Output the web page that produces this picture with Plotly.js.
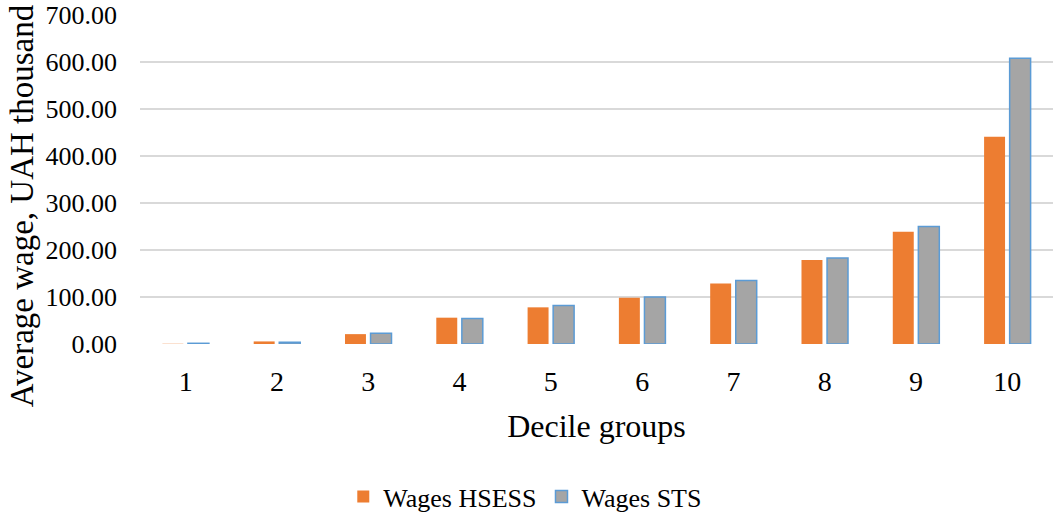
<!DOCTYPE html>
<html>
<head>
<meta charset="utf-8">
<script src="https://cdn.plot.ly/plotly-3.0.1.min.js"></script>
<style>
html,body{margin:0;padding:0;background:#fff;}
#chart{width:1056px;height:515px;}
</style>
</head>
<body>
<div id="chart"></div>
<script>
const categories = ['1','2','3','4','5','6','7','8','9','10'];
const wagesHSESS = [0.5, 5.5, 21, 56, 78, 98.5, 128.5, 178.5, 239, 441];
const wagesSTS = [1.5, 3.5, 23, 54.5, 82, 100, 135, 183, 250, 608];
const seriesNames = ['Wages HSESS', 'Wages STS'];
const yTicks = [0, 100, 200, 300, 400, 500, 600, 700];
const xTitle = 'Decile groups';
const yTitle = 'Average wage, UAH thousand';

const font = 'Liberation Serif';

const traces = [
  {
    type: 'bar', name: seriesNames[0], x: categories, y: wagesHSESS,
    marker: {color: '#ed7d31', line: {color: '#ed7d31', width: 0}},
    hoverinfo: 'x+y'
  },
  {
    type: 'bar', name: seriesNames[1], x: categories, y: wagesSTS,
    marker: {color: '#a5a5a5', line: {color: '#5b9bd5', width: 1.5}},
    hoverinfo: 'x+y'
  }
];

const layout = {
  width: 1056, height: 515,
  margin: {l: 140, r: 3, t: 15, b: 171, autoexpand: false},
  paper_bgcolor: '#fff', plot_bgcolor: '#fff',
  barmode: 'group', bargap: 0.44, bargroupgap: 0.18,
  font: {family: font, color: '#000'},
  xaxis: {
    type: 'category', automargin: false,
    tickfont: {family: font, size: 28, color: '#000'},
    ticks: '', showgrid: false, showline: false, zeroline: false,
    ticklabelstandoff: 18,
    title: {text: xTitle, font: {family: font, size: 32, color: '#000'}, standoff: 18}
  },
  yaxis: {
    range: [0, 700], tickvals: yTicks, tickformat: '.2f', automargin: false,
    tickfont: {family: font, size: 26, color: '#000'},
    ticks: '', showgrid: true, gridcolor: '#d9d9d9', gridwidth: 1.5,
    zeroline: false, showline: false,
    ticklabelstandoff: 22
  },
  annotations: [{
    text: yTitle, textangle: -90, showarrow: false,
    xref: 'paper', yref: 'paper', x: -0.129, y: 0.419,
    xanchor: 'center', yanchor: 'middle',
    font: {family: font, size: 33, color: '#000'}
  }],
  legend: {
    orientation: 'h', x: 0.422, xanchor: 'center', y: -0.4635, yanchor: 'middle',
    font: {family: font, size: 26, color: '#000'},
    itemwidth: 30, tracegroupgap: 0
  },
  showlegend: true
};

Plotly.newPlot('chart', traces, layout, {displayModeBar: false, staticPlot: true});
</script>
</body>
</html>
